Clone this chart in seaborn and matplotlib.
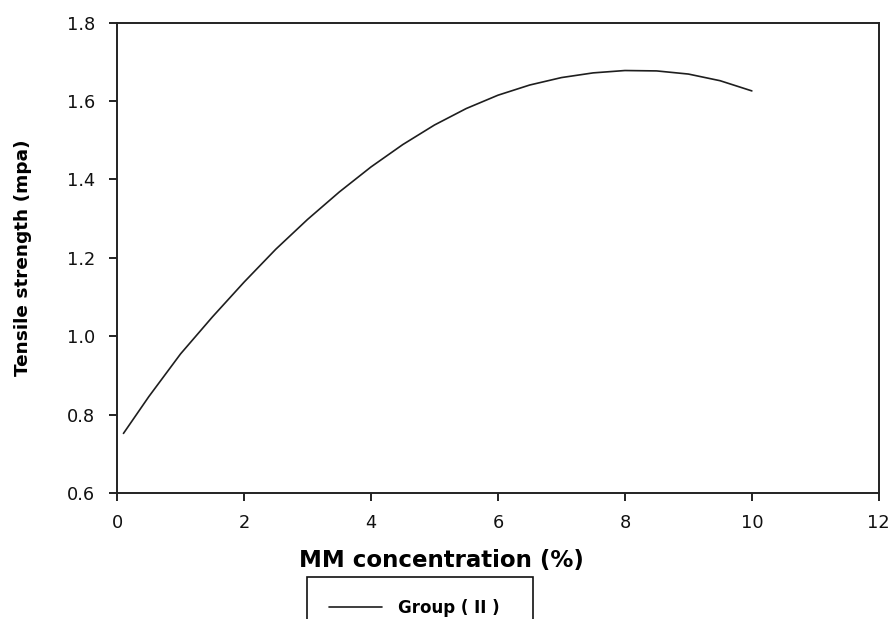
import matplotlib
matplotlib.use("Agg")
import matplotlib.pyplot as plt
import seaborn as sns
import pandas as pd

# MM concentration (%) and fitted tensile strength (MPa) for Group (II)
concentration = [0.1, 0.5, 1.0, 1.5, 2.0, 2.5, 3.0, 3.5, 4.0, 4.5, 5.0,
                 5.5, 6.0, 6.5, 7.0, 7.5, 8.0, 8.5, 9.0, 9.5, 10.0]
tensile_strength = [0.752, 0.846, 0.955, 1.049, 1.138, 1.222, 1.298, 1.368,
                    1.432, 1.489, 1.539, 1.581, 1.615, 1.641, 1.660, 1.672,
                    1.678, 1.677, 1.669, 1.652, 1.626]
series_label = "Group ( II )"

x_ticks = [0, 2, 4, 6, 8, 10, 12]
y_ticks = [0.6, 0.8, 1.0, 1.2, 1.4, 1.6, 1.8]

df = pd.DataFrame({"x": concentration, "y": tensile_strength,
                   "group": series_label})

sns.set_theme(style="ticks")
plt.rcParams["font.family"] = ["DejaVu Sans"]
plt.rcParams["text.color"] = "black"
plt.rcParams["axes.labelcolor"] = "black"

fig = plt.figure(figsize=(8.94, 6.19), dpi=100)
ax = fig.add_axes([0.131, 0.2036, 0.852, 0.7597])

sns.lineplot(data=df, x="x", y="y", hue="group", palette=["#1e1e1e"],
             linewidth=1.2, ax=ax, legend=False, sort=False)

ax.set_xlim(0, 12)
ax.set_ylim(0.6, 1.8)
ax.set_xticks(x_ticks)
ax.set_xticklabels([str(v) for v in x_ticks])
ax.set_yticks(y_ticks)
ax.set_yticklabels([f"{v:.1f}" for v in y_ticks])
ax.tick_params(axis="both", direction="out", length=5.8, width=1.4,
               color="#222222", labelsize=12.8, labelcolor="#111111")
ax.tick_params(axis="x", pad=9)
ax.tick_params(axis="y", pad=10)
ax.tick_params(top=False, right=False)
for side in ["left", "right", "top", "bottom"]:
    ax.spines[side].set_visible(True)
    ax.spines[side].set_color("#222222")
    ax.spines[side].set_linewidth(1.4)

ax.set_xlabel("MM concentration (%)", fontsize=16.5, fontweight="bold")
ax.xaxis.set_label_coords(0.426, -0.12)
ax.set_ylabel("Tensile strength (mpa)", fontsize=13.3, fontweight="bold",
              labelpad=25)

# Legend box below the plot, running off the bottom edge of the figure
handle = plt.Line2D([], [], color="#1e1e1e", linewidth=1.2)
box_left, box_top, box_w, box_h = 307 / 894, 1 - 577 / 619, 226 / 894, 0.08
leg = fig.legend([handle], [series_label], loc="upper left",
                 bbox_to_anchor=(box_left, box_top - box_h, box_w, box_h),
                 mode="expand", frameon=True, fancybox=False, framealpha=1,
                 edgecolor="#111111", handlelength=3.2, handletextpad=0.95,
                 borderpad=1.3, borderaxespad=0,
                 prop={"size": 12, "weight": "bold"})
leg.get_frame().set_linewidth(1.2)

fig.savefig("out.png", dpi=100)
